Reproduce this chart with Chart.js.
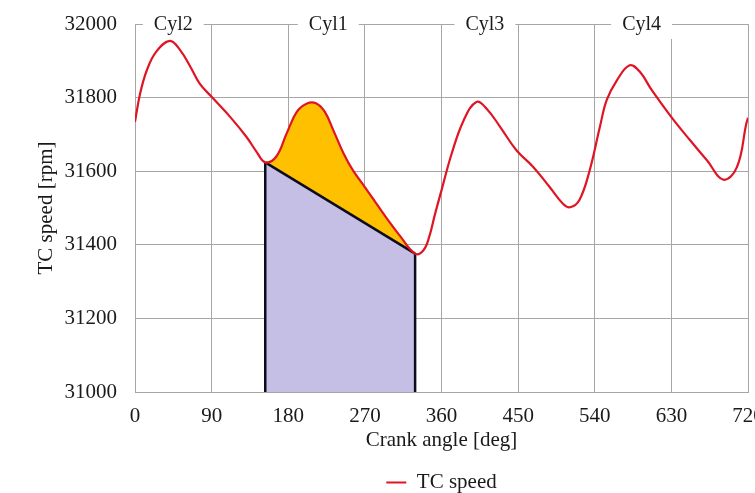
<!DOCTYPE html>
<html>
<head>
<meta charset="utf-8">
<script src="https://cdn.jsdelivr.net/npm/chart.js@4/dist/chart.umd.min.js"></script>
<style>
  html, body { margin: 0; padding: 0; background: #fff; overflow: hidden; }
  #wrap { width: 755px; height: 493px; overflow: hidden; position: relative; }
  #tcChart { position: absolute; left: 0; top: 0; }
</style>
</head>
<body>
<div id="wrap"><canvas id="tcChart" width="755" height="503"></canvas></div>
<script>
// crank angle [deg] and turbocharger speed [rpm]
const crankAngle = [0, 6, 14, 25, 41, 53, 65, 76, 90, 112, 131, 143, 153, 166, 178, 190, 202, 213, 223, 233,
  245, 256, 270, 292, 311, 329, 339, 346, 352, 360, 372, 386, 401, 413, 429, 448, 468, 487, 503, 511,
  522, 534, 546, 554, 566, 581, 593, 607, 630, 652, 672, 691, 707, 718, 720];
const tcSpeed = [31734, 31811, 31875, 31925, 31954, 31929, 31884, 31838, 31802, 31747, 31693, 31652, 31624, 31640, 31702, 31761, 31784, 31784, 31761, 31711,
  31648, 31602, 31557, 31484, 31425, 31376, 31386, 31425, 31480, 31548, 31648, 31738, 31788, 31770, 31720, 31657, 31611, 31557, 31511, 31502,
  31522, 31602, 31720, 31793, 31847, 31888, 31870, 31820, 31747, 31684, 31629, 31577, 31611, 31729, 31745];

// chord between the two minima of the Cyl1 interval
const chordAngle = [153, 329];
const chordSpeed = [31624, 31376];

const cylLabels = ["Cyl2", "Cyl1", "Cyl3", "Cyl4"];
const cylAngles = [45, 227, 411, 595];

const xTicks = [0, 90, 180, 270, 360, 450, 540, 630, 720];
const yMin = 31000, yMax = 32000, yStep = 200;

const toPoints = (xs, ys) => xs.map((x, i) => ({ x, y: ys[i] }));
const curve = toPoints(crankAngle, tcSpeed);
const chord = toPoints(chordAngle, chordSpeed);
const bump = curve.filter(p => p.x >= chordAngle[0] && p.x <= chordAngle[1]);
const leftEdge = [{ x: chordAngle[0], y: yMin }, { x: chordAngle[0], y: chordSpeed[0] }];
const rightEdge = [{ x: chordAngle[1], y: yMin }, { x: chordAngle[1], y: chordSpeed[1] }];

const serif = "'Liberation Serif', 'Times New Roman', serif";
const gridColor = "#a6a6a6";
const textColor = "#1a1a1a";
const axisFont = { family: serif, size: 21 };

const cylPlugin = {
  id: "cylLabels",
  afterDatasetsDraw(chart) {
    const { ctx, chartArea, scales } = chart;
    ctx.save();
    ctx.font = `20px ${serif}`;
    ctx.textAlign = "center";
    ctx.textBaseline = "middle";
    cylLabels.forEach((txt, i) => {
      const x = scales.x.getPixelForValue(cylAngles[i]);
      const w = ctx.measureText(txt).width + 22;
      ctx.fillStyle = "#fff";
      ctx.fillRect(x - w / 2, chartArea.top - 14, w, 29);
      ctx.fillStyle = textColor;
      ctx.fillText(txt, x, chartArea.top + 1);
    });
    ctx.restore();
  }
};

new Chart(document.getElementById("tcChart"), {
  type: "line",
  data: {
    datasets: [
      {
        label: "TC speed",
        data: curve,
        borderColor: "#df1424",
        backgroundColor: "#df1424",
        borderWidth: 2.2,
        tension: 0.4,
        pointRadius: 0,
        fill: false,
      },
      {
        label: "chord",
        data: chord,
        borderColor: "#0c0c1e",
        borderWidth: 2.5,
        pointRadius: 0,
        fill: false,
      },
      {
        label: "left",
        data: leftEdge,
        borderColor: "#0c0c1e",
        borderWidth: 2.5,
        pointRadius: 0,
        fill: false,
      },
      {
        label: "right",
        data: rightEdge,
        borderColor: "#0c0c1e",
        borderWidth: 2.5,
        pointRadius: 0,
        fill: false,
      },
      {
        label: "bump",
        data: bump,
        borderWidth: 0,
        borderColor: "rgba(0,0,0,0)",
        backgroundColor: "#ffc000",
        tension: 0.4,
        pointRadius: 0,
        fill: { target: 1 },
      },
      {
        label: "area",
        data: chord,
        borderWidth: 0,
        borderColor: "rgba(0,0,0,0)",
        backgroundColor: "#c5bfe6",
        pointRadius: 0,
        fill: "start",
      },
    ],
  },
  options: {
    responsive: false,
    animation: false,
    layout: { padding: { top: 24, left: 34, right: 7, bottom: 0 } },
    plugins: {
      tooltip: { enabled: false },
      legend: {
        position: "bottom",
        fullSize: false,
        labels: {
          generateLabels: (chart) =>
            Chart.defaults.plugins.legend.labels.generateLabels(chart)
              .filter(item => item.text === "TC speed")
              .map(item => ({ ...item, lineWidth: 0 })),
          boxWidth: 20,
          boxHeight: 2,
          color: textColor,
          font: axisFont,
        },
      },
    },
    scales: {
      x: {
        type: "linear",
        min: 0,
        max: 720,
        afterBuildTicks: (scale) => { scale.ticks = xTicks.map(v => ({ value: v })); },
        afterFit: (scale) => {
          scale.height = 70;
          scale.paddingLeft = 0;
          scale.paddingRight = 0;
        },
        ticks: { color: textColor, font: axisFont, padding: 12, callback: (v) => String(v) },
        grid: { color: gridColor, drawTicks: false },
        border: { color: gridColor },
        title: {
          display: true,
          text: "Crank angle [deg]",
          color: textColor,
          font: axisFont,
          padding: { top: 0, bottom: 9 },
        },
      },
      y: {
        min: yMin,
        max: yMax,
        afterFit: (scale) => {
          scale.width = 101;
          scale.paddingTop = 0;
          scale.paddingBottom = 0;
        },
        ticks: { stepSize: yStep, color: textColor, font: axisFont, padding: 18, callback: (v) => String(v) },
        grid: { color: gridColor, drawTicks: false },
        border: { color: gridColor },
        title: {
          display: true,
          text: "TC speed [rpm]",
          color: textColor,
          font: axisFont,
          padding: { top: 0, bottom: 9 },
        },
      },
    },
  },
  plugins: [cylPlugin],
});
</script>
</body>
</html>
